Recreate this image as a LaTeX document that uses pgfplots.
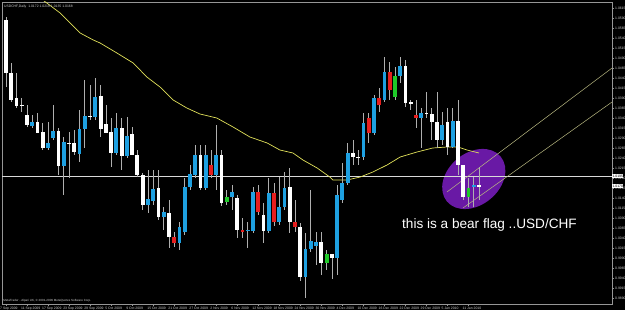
\documentclass[border=0pt]{standalone}
\usepackage{pgfplots}
\pgfplotsset{compat=1.18}
\usepackage{pgfplotstable}
\usepackage{fontspec}
\setmainfont{Liberation Sans}
\usetikzlibrary{shapes.geometric}
\definecolor{cblue}{RGB}{30,160,225}
\definecolor{cred}{RGB}{230,30,30}
\definecolor{cgreen}{RGB}{30,200,40}
\definecolor{cpurple}{RGB}{105,25,165}
\definecolor{cma}{RGB}{225,225,90}
\definecolor{cchan}{RGB}{185,185,130}
\definecolor{wickc}{RGB}{175,175,175}
\definecolor{axc}{RGB}{150,150,150}
\definecolor{txc}{RGB}{205,205,205}

\pgfplotstableread{
i o h l c
0 1.0585 1.05925 1.04175 1.04525
1 1.04525 1.04775 1.038 1.0385
2 1.039 1.04525 1.0365 1.037
3 1.03725 1.039 1.0355 1.037
4 1.03475 1.03725 1.03175 1.03225
6 1.033 1.03525 1.03025 1.03025
7 1.0305 1.03275 1.026 1.0265
10 1.03075 1.0315 1.01975 1.022
12 1.02775 1.0305 1.019 1.0275
13 1.02775 1.031 1.02475 1.0255
16 1.0345 1.04225 1.0335 1.03425
18 1.0395 1.04225 1.02925 1.03125
19 1.0325 1.03725 1.03025 1.03025
20 1.0305 1.034 1.02175 1.02525
22 1.0315 1.034 1.021 1.0245
24 1.0300 1.03175 1.02475 1.02475
25 1.02475 1.026 1.01925 1.01975
26 1.01975 1.02025 1.011 1.01225
29 1.0165 1.021 1.0085 1.00925
31 1.01025 1.0135 1.0015 1.00425
37 1.02475 1.02725 1.016 1.0165
41 1.02475 1.026 1.012 1.01275
44 1.014 1.01475 1.004 1.006
49 1.00975 1.01275 1.00275 1.00575
54 1.01675 1.0215 1.00525 1.008
56 1.00675 1.00775 0.99325 0.99425
60 1.003 1.0055 0.99475 0.99775
62 1.0000 1.0000 0.99375 0.9990
66 1.02525 1.0285 1.02225 1.02425
67 1.02425 1.026 1.02225 1.024
76 1.047 1.0485 1.03675 1.03775
77 1.038 1.0385 1.036 1.0375
80 1.03525 1.0405 1.034 1.035
81 1.035 1.0365 1.0285 1.033
82 1.033 1.0405 1.0265 1.0285
84 1.033 1.0365 1.02475 1.02675
86 1.03325 1.0385 1.01975 1.02225
87 1.02225 1.02225 1.0135 1.01425
90 1.01725 1.02175 1.0135 1.01675
}\tw

\pgfplotstableread{
i o h l c
5 1.032 1.03475 1.0315 1.033
8 1.0265 1.033 1.026 1.02775
9 1.029 1.03725 1.0285 1.03075
11 1.022 1.02925 1.01475 1.028
14 1.025 1.036 1.023 1.03125
15 1.03125 1.0435 1.0265 1.0345
17 1.03425 1.044 1.0335 1.03925
21 1.02525 1.03525 1.02475 1.0315
23 1.0245 1.03425 1.024 1.0295
27 1.01225 1.021 1.01025 1.01375
28 1.01325 1.021 1.01225 1.01625
30 1.00925 1.01175 1.006 1.0105
33 1.00275 1.008 1.001 1.00675
34 1.0055 1.019 1.00475 1.01675
35 1.01675 1.02225 1.016 1.0200
36 1.01975 1.02725 1.019 1.02475
38 1.0165 1.02725 1.016 1.02475
40 1.01975 1.03225 1.016 1.02475
43 1.01425 1.01725 1.011 1.0155
46 1.00575 1.008 1.0015 1.006
47 1.00575 1.01675 1.00525 1.0155
50 1.00575 1.019 1.00525 1.01525
52 1.008 1.01925 1.00725 1.01175
53 1.01175 1.0205 1.011 1.0165
57 0.99425 1.00525 0.989 1.00125
58 1.00125 1.016 1.0005 1.00325
59 1.002 1.0055 0.99725 1.003
63 0.9990 1.01725 0.99475 1.01475
64 1.0135 1.02275 1.01275 1.01775
65 1.01775 1.02775 1.01725 1.02525
68 1.02425 1.03525 1.0235 1.03275
70 1.03025 1.03975 1.02975 1.039
72 1.0385 1.04925 1.038 1.0455
75 1.0445 1.04925 1.04275 1.047
79 1.034 1.0365 1.0265 1.03525
83 1.0285 1.0355 1.02725 1.03225
85 1.02675 1.0365 1.0265 1.03325
89 1.01675 1.01925 1.01175 1.01725
}\tb

\pgfplotstableread{
i o h l c
32 1.00425 1.0055 1.00175 1.00275
39 1.02225 1.026 1.019 1.01975
45 1.006 1.009 1.004 1.0055
48 1.0155 1.01725 1.00975 1.0105
51 1.01525 1.01775 1.007 1.008
55 1.008 1.0135 1.0055 1.00675
69 1.034 1.03525 1.02775 1.03025
71 1.039 1.0415 1.0355 1.03725
73 1.0455 1.048 1.0385 1.041
78 1.03475 1.0385 1.0315 1.034
}\tr

\pgfplotstableread{
i o h l c
42 1.013 1.016 1.01225 1.01425
61 0.99775 1.001 0.996 1.0000
74 1.03925 1.04675 1.0385 1.0445
88 1.01425 1.019 1.01175 1.0165
}\tg

\pgfplotsset{
  wick/.style={draw=none, mark=none, forget plot,
    error bars/.cd, y dir=plus, y explicit, error mark=none,
    error bar style={draw=wickc, line width=0.7bp}},
  body/.style={draw=none, mark=none, forget plot,
    error bars/.cd, y dir=plus, y explicit, error mark=none,
    error bar style={draw=#1, line width=3.8bp}},
}
\newcommand{\tinyf}{\fontsize{3.4bp}{4bp}\selectfont}

\begin{document}
\begin{tikzpicture}
\fill[black] (0,0) rectangle (625bp,310bp);
\begin{axis}[
  at={(2bp,6bp)}, anchor=south west,
  scale only axis, width=610bp, height=302bp,
  xmin=-0.761, xmax=115.3, ymin=0.9875, ymax=1.0630,
  axis background/.style={fill=black},
  axis line style={axc, line width=0.6bp},
  clip mode=individual,
  tick align=outside, major tick length=2bp,
  tick style={axc, line width=0.4bp},
  xtick pos=bottom, ytick pos=right, yticklabel pos=right,
  xtick={0,4,...,88},
  xticklabels={7 Sep 2009,11 Sep 2009,17 Sep 2009,23 Sep 2009,29 Sep 2009,5 Oct 2009,9 Oct 2009,15 Oct 2009,21 Oct 2009,27 Oct 2009,2 Nov 2009,6 Nov 2009,12 Nov 2009,18 Nov 2009,24 Nov 2009,30 Nov 2009,4 Dec 2009,10 Dec 2009,16 Dec 2009,22 Dec 2009,29 Dec 2009,5 Jan 2010,11 Jan 2010},
  xticklabel style={anchor=north west, inner sep=0pt, xshift=-6bp, yshift=-1.2bp, text=txc, font=\tinyf},
  ytick={0.9890,0.9915,...,1.0616},
  yticklabel style={anchor=west, inner sep=0pt, xshift=1bp, text=txc, font=\tinyf,
    /pgf/number format/.cd, fixed, fixed zerofill, precision=4, assume math mode=true},
  scaled y ticks=false,
]
% purple highlight ellipse
\node[ellipse, fill=cpurple, minimum width=70bp, minimum height=52bp, rotate=40, inner sep=0pt] at (axis cs:89.0,1.01875) {};

% horizontal price line
\addplot[color=white!85!black, line width=0.7bp, forget plot] coordinates {(-0.761,1.0195) (115.3,1.0195)};

% moving average
\addplot[cma, line width=0.7bp, forget plot] coordinates {
(6,1.0645) (7,1.0635) (10.3,1.06025) (14.1,1.05525) (16.6,1.0535) (17.9,1.05275)
(21.1,1.05025) (24.2,1.04775) (26.8,1.04425) (29.3,1.04175) (31.8,1.0385)
(34.4,1.0365) (36.9,1.035) (40.1,1.034) (43.2,1.03175) (46.4,1.02925)
(49.7,1.02775) (52.1,1.026) (54.6,1.02525) (56.5,1.0235) (59.2,1.0215)
(61.6,1.01925) (62.2,1.0185) (64.9,1.0185) (67.4,1.01925) (69.8,1.0205)
(72.5,1.02225) (75.0,1.02425) (78.2,1.0255) (81.2,1.0265) (83.9,1.02675)
(86.0,1.02675) (87.7,1.026) (90,1.02525)};

% channel lines
\addplot[cchan, line width=0.5bp, forget plot] coordinates {(83.9,1.0155) (115.3,1.0465)};
\addplot[cchan, line width=0.5bp, forget plot] coordinates {(86.95,1.0115) (115.3,1.038)};

% wicks
\addplot[wick] table[x=i, y=l, y error plus expr=\thisrow{h}-\thisrow{l}] {\tw};
\addplot[wick] table[x=i, y=l, y error plus expr=\thisrow{h}-\thisrow{l}] {\tb};
\addplot[wick] table[x=i, y=l, y error plus expr=\thisrow{h}-\thisrow{l}] {\tr};
\addplot[wick] table[x=i, y=l, y error plus expr=\thisrow{h}-\thisrow{l}] {\tg};
% bodies
\addplot[body=white] table[x=i, y expr={min(\thisrow{o},\thisrow{c})}, y error plus expr={max(abs(\thisrow{c}-\thisrow{o}),0.0003)}] {\tw};
\addplot[body=cblue] table[x=i, y expr={min(\thisrow{o},\thisrow{c})}, y error plus expr={max(abs(\thisrow{c}-\thisrow{o}),0.0003)}] {\tb};
\addplot[body=cred] table[x=i, y expr={min(\thisrow{o},\thisrow{c})}, y error plus expr={max(abs(\thisrow{c}-\thisrow{o}),0.0003)}] {\tr};
\addplot[body=cgreen] table[x=i, y expr={min(\thisrow{o},\thisrow{c})}, y error plus expr={max(abs(\thisrow{c}-\thisrow{o}),0.0003)}] {\tg};

% texts
\node[anchor=north west, inner sep=0pt, text=txc, font=\tinyf] at (axis cs:-0.4,1.0624) {USDCHF,Daily\ \ 1.0172 1.0218 1.0135 1.0168};
\node[anchor=base west, inner sep=0pt, text=txc, font=\fontsize{3bp}{3.5bp}\selectfont] at (axis cs:-0.55,0.9882) {MetaTrader - Alpari UK, © 2001-2009 MetaQuotes Software Corp.};
\node[anchor=base west, inner sep=0pt, text=white, font=\fontsize{13.6bp}{16bp}\selectfont] at (axis cs:75.34,1.00625) {this is a bear flag ..USD/CHF};
\node[anchor=west, fill=white, text=black, inner sep=0.4bp, font=\tinyf] at (axis cs:115.3,1.0195) {1.0195};
\node[anchor=west, fill=white, text=black, inner sep=0.4bp, font=\tinyf] at (axis cs:115.3,1.0170) {1.0170};
\end{axis}
\pgfresetboundingbox
\useasboundingbox (0,0) rectangle (625bp,310bp);
\end{tikzpicture}
\end{document}
